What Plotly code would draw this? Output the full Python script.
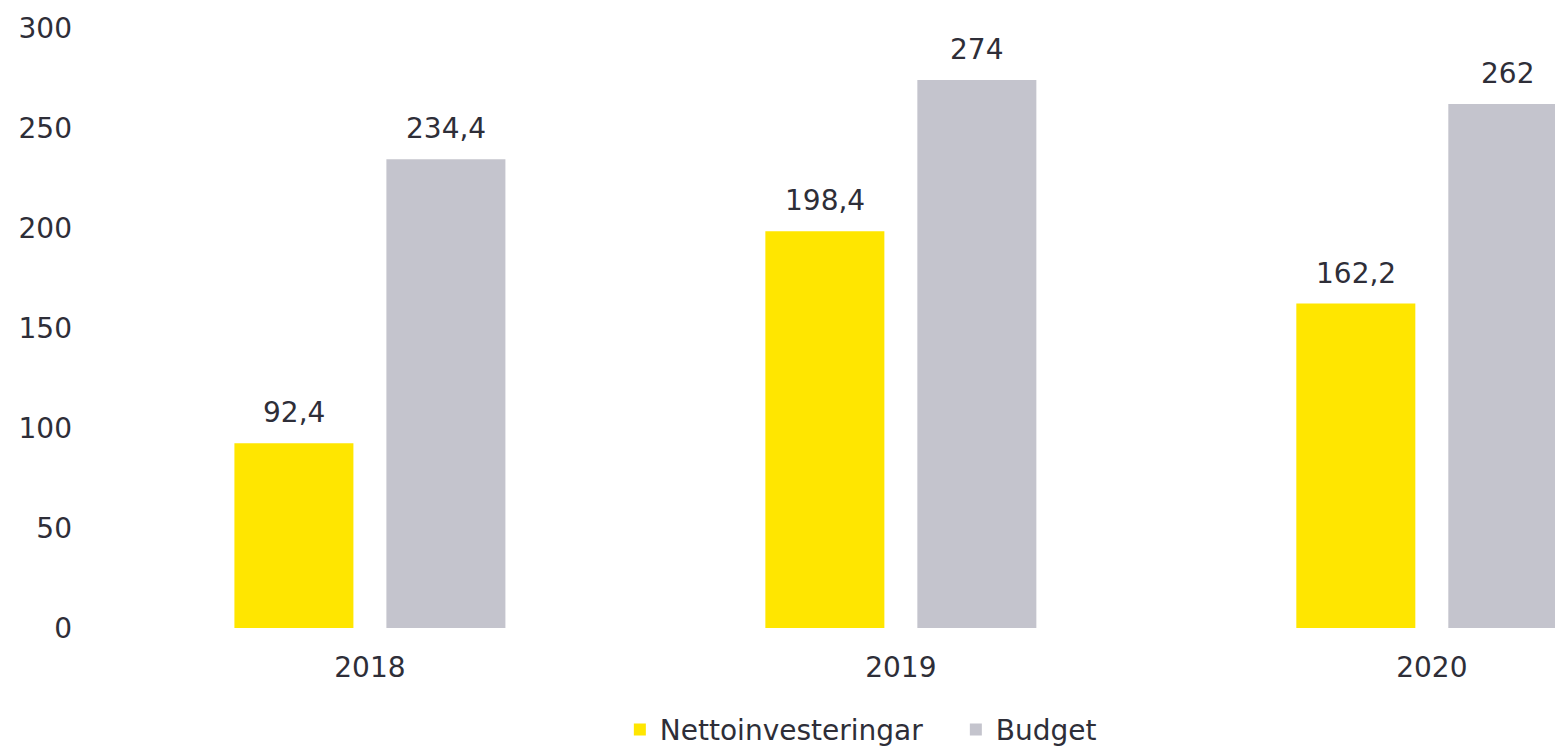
import plotly.graph_objects as go

years = ["2018", "2019", "2020"]
netto = [92.4, 198.4, 162.2]
budget = [234.4, 274, 262]
y_ticks = [0, 50, 100, 150, 200, 250, 300]

YELLOW = "#FFE600"
GREY = "#C4C4CD"
TEXT = "#2E2E38"
FONT = "DejaVu Sans"


def sv(v):
    # svensk decimalkomma
    return f"{v:g}".replace(".", ",")


fig = go.Figure()
fig.add_trace(go.Bar(x=years, y=netto, name="Nettoinvesteringar",
                     marker=dict(color=YELLOW, line=dict(width=0))))
fig.add_trace(go.Bar(x=years, y=budget, name="Budget",
                     marker=dict(color=GREY, line=dict(width=0))))

# etiketter ovanför staplarna (kategoriaxel -> index 0,1,2)
for series, shift in ((netto, -76), (budget, 76)):
    for i, v in enumerate(series):
        fig.add_annotation(x=i, y=v, xref="x", yref="y", text=sv(v),
                           showarrow=False, yanchor="bottom", xshift=shift, yshift=12,
                           font=dict(family=FONT, size=28, color=TEXT))

fig.update_layout(
    width=1555, height=747,
    margin=dict(l=80, r=0, t=28, b=119, autoexpand=False),
    paper_bgcolor="white", plot_bgcolor="white",
    barmode="group", bargap=0.4275, bargroupgap=0.217,
    font=dict(family=FONT, size=28, color=TEXT),
    showlegend=True,
    legend=dict(orientation="h", x=0.366, xanchor="left", y=-0.128, yanchor="top",
                entrywidth=291, entrywidthmode="pixels",
                font=dict(family=FONT, size=28, color=TEXT), itemclick=False),
)
fig.update_xaxes(type="category", range=[-0.546, 2.232], showgrid=False, showline=False,
                 zeroline=False, ticks="", ticklabelstandoff=20, automargin=False)
fig.update_yaxes(range=[0, 300], tickvals=y_ticks, showgrid=False, showline=False,
                 zeroline=False, ticks="", ticklabelstandoff=7, automargin=False)

# ta bort sidans standardmarginal så att figuren fyller fönstret
fig.write_html("out.html", config={"displayModeBar": False},
               post_script="document.body.style.margin='0';document.body.style.overflow='hidden';")
